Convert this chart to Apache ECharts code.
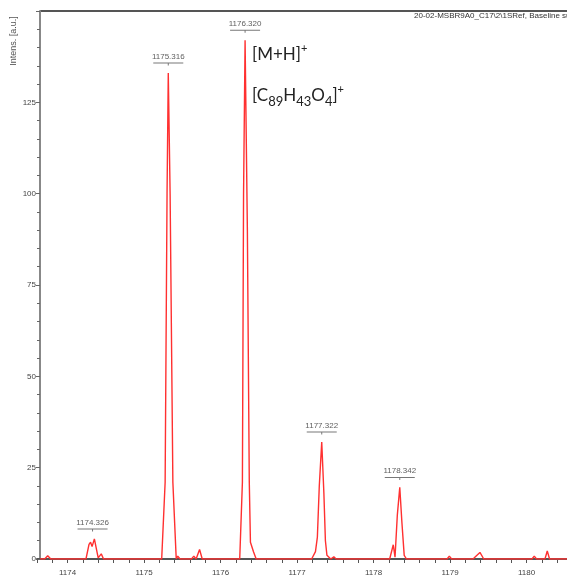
<!DOCTYPE html>
<html>
<head>
<meta charset="utf-8">
<script src="https://cdn.jsdelivr.net/npm/echarts@6/dist/echarts.min.js"></script>
<style>
  html, body { margin: 0; padding: 0; background: #fff; }
  #main { width: 567px; height: 587px; }
</style>
</head>
<body>
<div id="main"></div>
<script>
// spectrum trace, m/z vs intensity
const mzValues = [
  1173.64, 1173.70, 1173.74, 1173.78,
  1174.24, 1174.28, 1174.30, 1174.32, 1174.35, 1174.40, 1174.42, 1174.44, 1174.47,
  1175.23, 1175.275, 1175.30, 1175.316, 1175.34, 1175.376, 1175.42, 1175.44, 1175.47,
  1175.62, 1175.65, 1175.68, 1175.725, 1175.76,
  1176.25, 1176.285, 1176.30, 1176.32, 1176.35, 1176.375, 1176.39, 1176.43, 1176.465,
  1177.19, 1177.24, 1177.265, 1177.29, 1177.322, 1177.35, 1177.37, 1177.39, 1177.405, 1177.44, 1177.48, 1177.51,
  1178.21, 1178.257, 1178.28, 1178.31, 1178.342, 1178.37, 1178.40, 1178.43,
  1178.96, 1178.99, 1179.02,
  1179.30, 1179.33, 1179.35, 1179.39, 1179.44,
  1180.07, 1180.10, 1180.13, 1180.24, 1180.27, 1180.30, 1180.55
];
const intensities = [
  0, 0, 0.9, 0,
  0, 4.0, 4.6, 3.4, 5.5, 0.3, 0.2, 1.4, 0,
  0, 21, 100, 133, 100, 21, 0, 0.8, 0,
  0, 0.8, 0, 2.6, 0,
  0, 21, 100, 142, 90, 21, 4.6, 2, 0,
  0, 2, 6, 20, 32, 18, 5, 1, 0.7, 0, 0.6, 0,
  0, 3.9, 0.5, 12, 19.6, 10, 1, 0,
  0, 0.8, 0,
  0, 0.6, 0.2, 1.8, 0,
  0, 0.8, 0, 0, 2.2, 0, 0
];

// labelled peaks
const peakMz = [1174.326, 1175.316, 1176.320, 1177.322, 1178.342];
const peakHeight = [5.5, 133, 142, 32, 19.6];

const yTicks = [0, 25, 50, 75, 100, 125];

const chart = echarts.init(document.getElementById('main'));

const axisFont = 'Liberation Sans Narrow, Liberation Sans, sans-serif';

const option = {
  animation: false,
  grid: { left: 37, top: 11, right: 0, bottom: 28 },
  xAxis: {
    type: 'value',
    min: 1173.6,
    max: 1180.528,
    interval: 0.2,
    offset: 4,
    axisLine: { lineStyle: { color: '#555', width: 2 } },
    axisTick: { length: 4, lineStyle: { color: '#555', width: 1 } },
    axisLabel: {
      fontSize: 8,
      color: '#444',
      fontFamily: axisFont,
      margin: 6,
      showMaxLabel: false,
      formatter: v => Math.abs(v - Math.round(v)) < 1e-6 ? String(Math.round(v)) : ''
    },
    splitLine: { show: false }
  },
  yAxis: {
    type: 'value',
    min: 0,
    max: 150,
    interval: 25,
    offset: -3,
    axisLine: { show: true, lineStyle: { color: '#888', width: 2 } },
    axisTick: { show: true, length: 4, lineStyle: { color: '#666' } },
    minorTick: { show: true, splitNumber: 5, length: 3, lineStyle: { color: '#666' } },
    axisLabel: {
      fontSize: 8,
      color: '#444',
      fontFamily: axisFont,
      margin: 4,
      formatter: v => yTicks.includes(v) ? String(v) : ''
    },
    splitLine: { show: false }
  },
  series: [
    {
      type: 'line',
      data: mzValues.map((m, i) => [m, intensities[i]]),
      showSymbol: false,
      smooth: false,
      lineStyle: { color: '#ff3030', width: 1.4 },
      z: 2
    },
    {
      type: 'scatter',
      data: peakMz.map((m, i) => [m, peakHeight[i]]),
      symbol: 'path://M0,0 L30,0 L30,1 L15.5,1 L15.5,3 L14.5,3 L14.5,1 L0,1 Z',
      symbolSize: [30, 3],
      symbolOffset: [0, -9],
      itemStyle: { color: '#555' },
      label: {
        show: true,
        position: 'top',
        distance: 2,
        fontSize: 8,
        color: '#333',
        fontFamily: axisFont,
        formatter: p => p.value[0].toFixed(3)
      },
      z: 3
    }
  ],
  graphic: [
    {
      type: 'line',
      shape: { x1: 40, y1: 11, x2: 567, y2: 11 },
      style: { stroke: '#555', lineWidth: 2 }
    },
    {
      type: 'text',
      x: 14,
      y: 41,
      rotation: Math.PI / 2,
      style: {
        text: 'Intens. [a.u.]',
        fontSize: 9,
        fill: '#555',
        fontFamily: 'Liberation Sans, sans-serif',
        align: 'center',
        verticalAlign: 'middle'
      }
    },
    {
      type: 'text',
      x: 414,
      y: 16,
      style: {
        text: '20-02-MSBR9A0_C17\\2\\1SRef, Baseline subtracted',
        fontSize: 8,
        fill: '#333',
        fontFamily: axisFont,
        align: 'left',
        verticalAlign: 'middle'
      }
    },
    {
      type: 'text',
      x: 252,
      y: 43,
      style: {
        text: '{n|[M+H]}{sup|+}',
        fill: '#222',
        rich: {
          n: { fontSize: 17, fontFamily: 'Lato, sans-serif', lineHeight: 24, verticalAlign: 'middle', color: '#222' },
          sup: { fontSize: 11, fontFamily: 'Lato, sans-serif', lineHeight: 12, verticalAlign: 'top', color: '#222' }
        }
      }
    },
    {
      type: 'text',
      x: 252,
      y: 84,
      style: {
        text: '{n|[C}{sub|89}{n|H}{sub|43}{n|O}{sub|4}{n|]}{sup|+}',
        fill: '#222',
        rich: {
          n: { fontSize: 17, fontFamily: 'Lato, sans-serif', lineHeight: 24, verticalAlign: 'middle', color: '#222' },
          sub: { fontSize: 13, fontFamily: 'Lato, sans-serif', lineHeight: 13, verticalAlign: 'bottom', color: '#222' },
          sup: { fontSize: 11, fontFamily: 'Lato, sans-serif', lineHeight: 12, verticalAlign: 'top', color: '#222' }
        }
      }
    }
  ]
};

chart.setOption(option);
</script>
</body>
</html>
